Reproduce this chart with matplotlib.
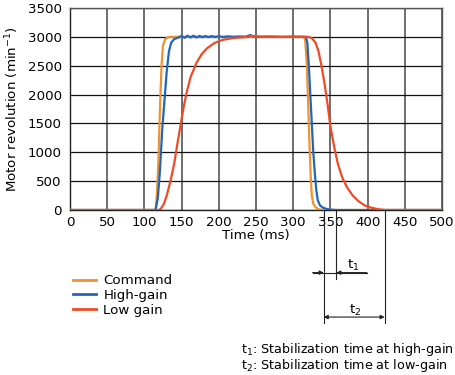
"""
Motor speed step response: command vs. high-gain vs. low-gain
"""

import matplotlib
matplotlib.use("Agg")
import matplotlib.pyplot as plt
import matplotlib.transforms as mtransforms
from matplotlib.lines import Line2D

plt.rcParams["font.family"] = ["DejaVu Sans"]
plt.rcParams["mathtext.default"] = "regular"

# Command (speed reference)
cmd_t = [0, 115, 117, 119, 121, 123, 125, 128, 132, 134,
         314, 316, 318, 320, 322, 323.5, 325, 327, 330, 335, 340, 500]
cmd_v = [0, 0, 300, 900, 1800, 2500, 2850, 2960, 2995, 3000,
         3000, 2950, 2600, 1900, 1100, 600, 250, 110, 45, 12, 0, 0]

# High-gain response
high_t = [0, 115, 118, 121, 124, 127, 130, 133, 136, 140, 145,
          150, 154, 158, 162, 166, 170, 174, 178, 182, 186, 190, 195,
          200, 206, 212, 220, 228, 236, 242, 246, 250, 258, 270, 285, 300, 310,
          317, 319, 321, 323, 325, 327, 329, 331, 333, 336, 340, 346, 352, 358, 500]
high_v = [0, 0, 200, 700, 1400, 1900, 2400, 2750, 2900, 2960, 2985,
          3015, 2985, 3020, 2990, 3020, 2990, 3015, 2995, 3015, 2995, 3012, 2998,
          3010, 2998, 3008, 3000, 3006, 3002, 3030, 3010, 3004, 3000, 3004, 2998, 3003, 3000,
          3000, 2900, 2500, 2000, 1500, 1000, 650, 350, 170, 80, 40, 15, 5, 0, 0]

# Low gain response
low_t = [0, 119, 122, 126, 130, 135, 140, 145, 149, 153, 157, 162, 170,
         177, 184, 195, 206, 220, 240, 244, 250, 280, 320,
         325, 330, 334, 338, 342, 346, 350, 355, 360, 366, 372, 380, 388, 396,
         405, 415, 423, 500]
low_v = [0, 0, 20, 100, 250, 500, 800, 1200, 1500, 1800, 2050, 2300, 2550,
         2700, 2800, 2900, 2950, 2980, 3000, 3020, 3005, 3000, 3000,
         2980, 2900, 2750, 2500, 2200, 1850, 1450, 1100, 800, 560, 400, 250, 150, 80,
         40, 12, 0, 0]

# Stabilization time markers (ms)
t_cmd_end = 341
t_high_end = 358
t_low_end = 423

c_cmd = "#F0922E"
c_high = "#2166B8"
c_low = "#EE4B26"

fig = plt.figure(figsize=(4.55, 3.75), dpi=100)
ax = fig.add_axes([70 / 455, 165 / 375, 372 / 455, 202 / 375])

ax.plot(cmd_t, cmd_v, color=c_cmd, lw=1.6, zorder=3)
ax.plot(high_t, high_v, color=c_high, lw=1.6, zorder=4)
ax.plot(low_t, low_v, color=c_low, lw=1.6, zorder=5)

ax.set_xlim(0, 500)
ax.set_ylim(0, 3500)
ax.set_xticks(range(0, 501, 50))
ax.set_yticks(range(0, 3501, 500))
ax.tick_params(length=0, labelsize=9.6)
ax.tick_params(axis="y", pad=6)
ax.tick_params(axis="x", pad=4)
ax.xaxis.grid(True, color="#555555", lw=1.2)
ax.yaxis.grid(True, color="#111111", lw=0.9)
for s in ax.spines.values():
    s.set_linewidth(1.0)
    s.set_color("#222222")
ax.spines["top"].set_color("#555555")
ax.spines["right"].set_color("#555555")

ax.set_xlabel("Time (ms)", fontsize=9.6, labelpad=0)
ax.set_ylabel("Motor revolution (min$^{-1}$)", fontsize=9.6, labelpad=5)

# Dimension lines below the axis
trans = mtransforms.blended_transform_factory(ax.transData, ax.transAxes)
kw = dict(color="#222222", lw=0.8, transform=trans, clip_on=False)
ax.plot([t_cmd_end, t_cmd_end], [0, -0.56], **kw)
ax.plot([t_high_end, t_high_end], [0, -0.34], **kw)
ax.plot([t_low_end, t_low_end], [0, -0.56], **kw)

y1 = -0.31
ax.plot([326, 399], [y1, y1], **kw)
akw = dict(arrowstyle="-|>", color="#222222", lw=0.8,
           mutation_scale=6, shrinkA=0, shrinkB=0)
ax.annotate("", xy=(t_cmd_end, y1), xytext=(326, y1), xycoords=trans,
            textcoords=trans, arrowprops=akw, annotation_clip=False)
ax.annotate("", xy=(t_high_end, y1), xytext=(399, y1), xycoords=trans,
            textcoords=trans, arrowprops=akw, annotation_clip=False)
ax.text(380, -0.275, "t$_1$", transform=trans, fontsize=9.6,
        ha="center", va="center")

y2 = -0.53
ax.annotate("", xy=(t_cmd_end, y2), xytext=(t_low_end, y2), xycoords=trans,
            textcoords=trans, annotation_clip=False,
            arrowprops=dict(arrowstyle="<|-|>", color="#222222", lw=0.8,
                            mutation_scale=6, shrinkA=0, shrinkB=0))
ax.text(383, -0.495, "t$_2$", transform=trans, fontsize=9.6,
        ha="center", va="center")

# Legend
handles = [Line2D([], [], color=c_cmd, lw=2),
           Line2D([], [], color=c_high, lw=2),
           Line2D([], [], color=c_low, lw=2)]
fig.legend(handles, ["Command", "High-gain", "Low gain"],
           loc="upper left", bbox_to_anchor=(68 / 455, 1 - 269 / 375),
           frameon=False, fontsize=9.6, handlelength=1.7, handletextpad=0.55,
           labelspacing=0.12, borderaxespad=0)

fig.text(241 / 455, 1 - 349 / 375, "t$_1$: Stabilization time at high-gain",
         fontsize=9.2, va="center")
fig.text(241 / 455, 1 - 365 / 375, "t$_2$: Stabilization time at low-gain",
         fontsize=9.2, va="center")

fig.savefig("out.png", dpi=100)
